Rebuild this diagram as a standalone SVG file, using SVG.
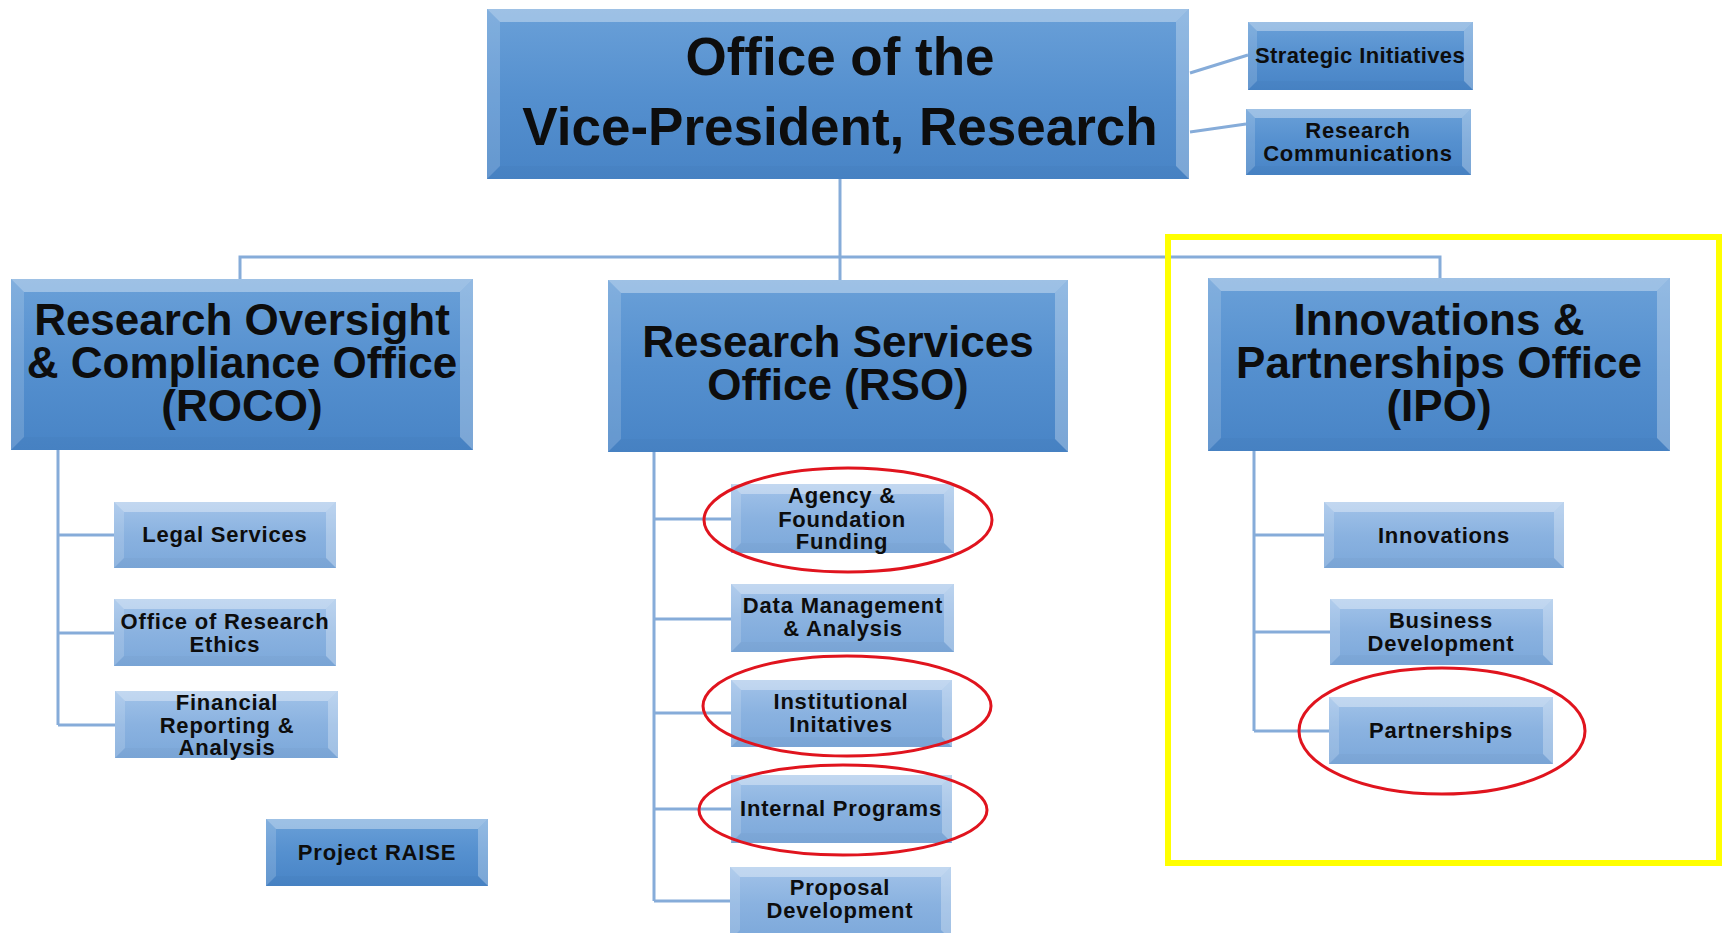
<svg xmlns="http://www.w3.org/2000/svg" width="1723" height="933" viewBox="0 0 1723 933">
  <defs>
    <linearGradient id="gMain" x1="0" y1="0" x2="0" y2="1">
      <stop offset="0" stop-color="#6aa0d8"/>
      <stop offset="0.5" stop-color="#5590cf"/>
      <stop offset="1" stop-color="#4884c6"/>
    </linearGradient>
    <linearGradient id="gSmall" x1="0" y1="0" x2="0" y2="1">
      <stop offset="0" stop-color="#a2c3e9"/>
      <stop offset="0.5" stop-color="#8ab2e0"/>
      <stop offset="1" stop-color="#7ca8da"/>
    </linearGradient>
    <style>
      .main { fill: url(#gMain); }
      .small { fill: url(#gSmall); }
      .bt { fill: #ffffff; opacity: 0.35; }
      .bl { fill: #ffffff; opacity: 0.16; }
      .br { fill: #ffffff; opacity: 0.28; }
      .bb { fill: #000000; opacity: 0.02; }
      .conn { fill: none; stroke: #86acd9; stroke-width: 3; }
      .ring { fill: none; stroke: #e0141e; stroke-width: 3; }
      .frame { fill: none; stroke: #ffff00; stroke-width: 6; }
      text { font-family: "Liberation Sans", Arial, sans-serif; font-weight: bold; fill: #0d0d0d; text-anchor: middle; }
      .t1 { font-size: 53px; }
      .t2 { font-size: 44px; }
      .t3 { font-size: 22px; letter-spacing: 0.8px; }
    </style>
  </defs>

  <rect width="1723" height="933" fill="#ffffff"/>

  <!-- connectors -->
  <g id="connectors">
    <path class="conn" d="M840,179 V280"/>
    <path class="conn" d="M240,279 V257 H1440 V278"/>
    <path class="conn" d="M1190,73 L1248,55"/>
    <path class="conn" d="M1190,132 L1246,124"/>
    <path class="conn" d="M58,450 V725 M58,535 H114 M58,633 H114 M58,725 H115"/>
    <path class="conn" d="M654,452 V901 M654,519 H731 M654,619 H731 M654,713 H731 M654,809 H731 M654,901 H730"/>
    <path class="conn" d="M1254,451 V731 M1254,535 H1324 M1254,632 H1330 M1254,731 H1329"/>
  </g>

  <!-- top office -->
  <g id="vp-research">
    <rect class="main" x="487" y="9" width="702" height="170"/>
    <polygon class="bt" points="487,9 1189,9 1176,22 500,22"/>
    <polygon class="bl" points="487,9 500,22 500,166 487,179"/>
    <polygon class="br" points="1189,9 1189,179 1176,166 1176,22"/>
    <polygon class="bb" points="487,179 1189,179 1176,166 500,166"/>
    <text class="t1" x="840" y="75">Office of the</text>
    <text class="t1" x="840" y="145">Vice-President, Research</text>
  </g>

  <g id="strategic-initiatives">
    <rect class="main" x="1248" y="22" width="225" height="68"/>
    <polygon class="bt" points="1248,22 1473,22 1464,31 1257,31"/>
    <polygon class="bl" points="1248,22 1257,31 1257,81 1248,90"/>
    <polygon class="br" points="1473,22 1473,90 1464,81 1464,31"/>
    <polygon class="bb" points="1248,90 1473,90 1464,81 1257,81"/>
    <text class="t3" x="1360" y="63" style="letter-spacing:0.4px">Strategic Initiatives</text>
  </g>

  <g id="research-communications">
    <rect class="main" x="1246" y="109" width="225" height="66"/>
    <polygon class="bt" points="1246,109 1471,109 1462,118 1255,118"/>
    <polygon class="bl" points="1246,109 1255,118 1255,166 1246,175"/>
    <polygon class="br" points="1471,109 1471,175 1462,166 1462,118"/>
    <polygon class="bb" points="1246,175 1471,175 1462,166 1255,166"/>
    <text class="t3" x="1358" y="138">Research</text>
    <text class="t3" x="1358" y="161">Communications</text>
  </g>

  <!-- offices -->
  <g id="roco">
    <rect class="main" x="11" y="279" width="462" height="171"/>
    <polygon class="bt" points="11,279 473,279 460,292 24,292"/>
    <polygon class="bl" points="11,279 24,292 24,437 11,450"/>
    <polygon class="br" points="473,279 473,450 460,437 460,292"/>
    <polygon class="bb" points="11,450 473,450 460,437 24,437"/>
    <text class="t2" x="242" y="335">Research Oversight</text>
    <text class="t2" x="242" y="378">&amp; Compliance Office</text>
    <text class="t2" x="242" y="421">(ROCO)</text>
  </g>

  <g id="rso">
    <rect class="main" x="608" y="280" width="460" height="172"/>
    <polygon class="bt" points="608,280 1068,280 1055,293 621,293"/>
    <polygon class="bl" points="608,280 621,293 621,439 608,452"/>
    <polygon class="br" points="1068,280 1068,452 1055,439 1055,293"/>
    <polygon class="bb" points="608,452 1068,452 1055,439 621,439"/>
    <text class="t2" x="838" y="357">Research Services</text>
    <text class="t2" x="838" y="400">Office (RSO)</text>
  </g>

  <g id="ipo">
    <rect class="main" x="1208" y="278" width="462" height="173"/>
    <polygon class="bt" points="1208,278 1670,278 1657,291 1221,291"/>
    <polygon class="bl" points="1208,278 1221,291 1221,438 1208,451"/>
    <polygon class="br" points="1670,278 1670,451 1657,438 1657,291"/>
    <polygon class="bb" points="1208,451 1670,451 1657,438 1221,438"/>
    <text class="t2" x="1439" y="335">Innovations &amp;</text>
    <text class="t2" x="1439" y="378">Partnerships Office</text>
    <text class="t2" x="1439" y="421">(IPO)</text>
  </g>

  <!-- ROCO units -->
  <g id="legal-services">
    <rect class="small" x="114" y="502" width="222" height="66"/>
    <polygon class="bt" points="114,502 336,502 326,512 124,512"/>
    <polygon class="bl" points="114,502 124,512 124,558 114,568"/>
    <polygon class="br" points="336,502 336,568 326,558 326,512"/>
    <polygon class="bb" points="114,568 336,568 326,558 124,558"/>
    <text class="t3" x="225" y="542">Legal Services</text>
  </g>

  <g id="research-ethics">
    <rect class="small" x="114" y="599" width="222" height="67"/>
    <polygon class="bt" points="114,599 336,599 326,609 124,609"/>
    <polygon class="bl" points="114,599 124,609 124,656 114,666"/>
    <polygon class="br" points="336,599 336,666 326,656 326,609"/>
    <polygon class="bb" points="114,666 336,666 326,656 124,656"/>
    <text class="t3" x="225" y="629">Office of Research</text>
    <text class="t3" x="225" y="652">Ethics</text>
  </g>

  <g id="financial-reporting">
    <rect class="small" x="115" y="691" width="223" height="67"/>
    <polygon class="bt" points="115,691 338,691 328,701 125,701"/>
    <polygon class="bl" points="115,691 125,701 125,748 115,758"/>
    <polygon class="br" points="338,691 338,758 328,748 328,701"/>
    <polygon class="bb" points="115,758 338,758 328,748 125,748"/>
    <text class="t3" x="227" y="710">Financial</text>
    <text class="t3" x="227" y="733">Reporting &amp;</text>
    <text class="t3" x="227" y="755">Analysis</text>
  </g>

  <g id="project-raise">
    <rect class="main" x="266" y="819" width="222" height="67"/>
    <polygon class="bt" points="266,819 488,819 478,829 276,829"/>
    <polygon class="bl" points="266,819 276,829 276,876 266,886"/>
    <polygon class="br" points="488,819 488,886 478,876 478,829"/>
    <polygon class="bb" points="266,886 488,886 478,876 276,876"/>
    <text class="t3" x="377" y="860">Project RAISE</text>
  </g>

  <!-- RSO units -->
  <g id="agency-foundation-funding">
    <rect class="small" x="731" y="484" width="223" height="69"/>
    <polygon class="bt" points="731,484 954,484 944,494 741,494"/>
    <polygon class="bl" points="731,484 741,494 741,543 731,553"/>
    <polygon class="br" points="954,484 954,553 944,543 944,494"/>
    <polygon class="bb" points="731,553 954,553 944,543 741,543"/>
    <text class="t3" x="842" y="503">Agency &amp;</text>
    <text class="t3" x="842" y="527">Foundation</text>
    <text class="t3" x="842" y="549">Funding</text>
  </g>

  <g id="data-management">
    <rect class="small" x="731" y="584" width="223" height="68"/>
    <polygon class="bt" points="731,584 954,584 944,594 741,594"/>
    <polygon class="bl" points="731,584 741,594 741,642 731,652"/>
    <polygon class="br" points="954,584 954,652 944,642 944,594"/>
    <polygon class="bb" points="731,652 954,652 944,642 741,642"/>
    <text class="t3" x="843" y="613">Data Management</text>
    <text class="t3" x="843" y="636">&amp; Analysis</text>
  </g>

  <g id="institutional-initiatives">
    <rect class="small" x="731" y="680" width="221" height="67"/>
    <polygon class="bt" points="731,680 952,680 942,690 741,690"/>
    <polygon class="bl" points="731,680 741,690 741,737 731,747"/>
    <polygon class="br" points="952,680 952,747 942,737 942,690"/>
    <polygon class="bb" points="731,747 952,747 942,737 741,737"/>
    <text class="t3" x="841" y="709">Institutional</text>
    <text class="t3" x="841" y="732">Initatives</text>
  </g>

  <g id="internal-programs">
    <rect class="small" x="731" y="775" width="221" height="68"/>
    <polygon class="bt" points="731,775 952,775 942,785 741,785"/>
    <polygon class="bl" points="731,775 741,785 741,833 731,843"/>
    <polygon class="br" points="952,775 952,843 942,833 942,785"/>
    <polygon class="bb" points="731,843 952,843 942,833 741,833"/>
    <text class="t3" x="841" y="816">Internal Programs</text>
  </g>

  <g id="proposal-development">
    <rect class="small" x="730" y="867" width="221" height="73"/>
    <polygon class="bt" points="730,867 951,867 941,877 740,877"/>
    <polygon class="bl" points="730,867 740,877 740,930 730,940"/>
    <polygon class="br" points="951,867 951,940 941,930 941,877"/>
    <text class="t3" x="840" y="895">Proposal</text>
    <text class="t3" x="840" y="918">Development</text>
  </g>

  <!-- IPO units -->
  <g id="innovations">
    <rect class="small" x="1324" y="502" width="240" height="66"/>
    <polygon class="bt" points="1324,502 1564,502 1554,512 1334,512"/>
    <polygon class="bl" points="1324,502 1334,512 1334,558 1324,568"/>
    <polygon class="br" points="1564,502 1564,568 1554,558 1554,512"/>
    <polygon class="bb" points="1324,568 1564,568 1554,558 1334,558"/>
    <text class="t3" x="1444" y="543">Innovations</text>
  </g>

  <g id="business-development">
    <rect class="small" x="1330" y="599" width="223" height="66"/>
    <polygon class="bt" points="1330,599 1553,599 1543,609 1340,609"/>
    <polygon class="bl" points="1330,599 1340,609 1340,655 1330,665"/>
    <polygon class="br" points="1553,599 1553,665 1543,655 1543,609"/>
    <polygon class="bb" points="1330,665 1553,665 1543,655 1340,655"/>
    <text class="t3" x="1441" y="628">Business</text>
    <text class="t3" x="1441" y="651">Development</text>
  </g>

  <g id="partnerships">
    <rect class="small" x="1329" y="697" width="224" height="67"/>
    <polygon class="bt" points="1329,697 1553,697 1543,707 1339,707"/>
    <polygon class="bl" points="1329,697 1339,707 1339,754 1329,764"/>
    <polygon class="br" points="1553,697 1553,764 1543,754 1543,707"/>
    <polygon class="bb" points="1329,764 1553,764 1543,754 1339,754"/>
    <text class="t3" x="1441" y="738">Partnerships</text>
  </g>

  <!-- highlight marks -->
  <g id="highlights">
    <rect class="frame" x="1168" y="237" width="551" height="626"/>
    <ellipse class="ring" cx="848" cy="520" rx="144" ry="52"/>
    <ellipse class="ring" cx="847" cy="706" rx="144" ry="50"/>
    <ellipse class="ring" cx="843" cy="810" rx="144" ry="45"/>
    <ellipse class="ring" cx="1442" cy="731" rx="143" ry="63"/>
  </g>
</svg>
